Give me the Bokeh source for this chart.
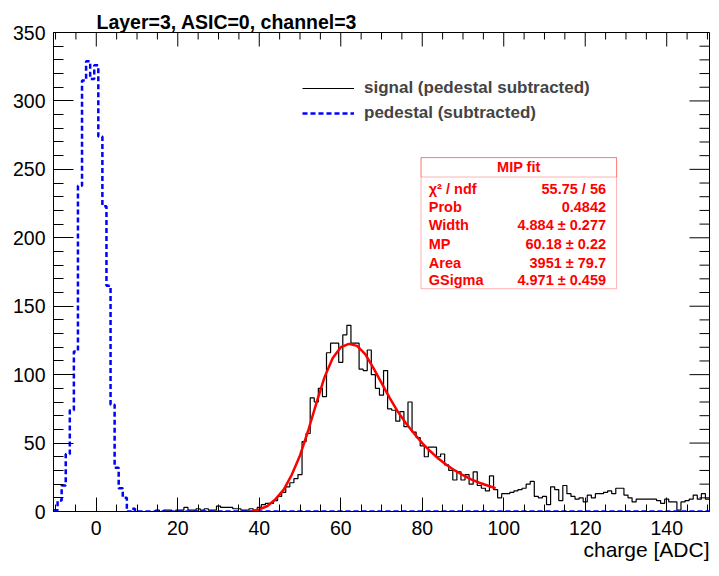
import numpy as np
from bokeh.plotting import figure
from bokeh.models import (Range1d, SingleIntervalTicker, Label, Title,
                          BoxAnnotation, Legend, LegendItem)
from bokeh.embed import file_html
from bokeh.resources import INLINE

# ---------------- data ----------------
bin_centers = list(range(-10, 151))  # 1 ADC wide bins

signal_counts = (
    [0] * 25 +  # -10 .. 14
    [1, 0, 1, 1, 0, 1, 1, 3, 1, 1, 2, 1, 2, 1, 1,          # 15 .. 29
     4, 3, 3, 3, 2, 2, 1, 1, 2, 1, 3, 5, 6, 6, 8] +        # 30 .. 44
    [11, 14, 18, 21, 24, 27, 51, 57, 83, 80,               # 45 .. 54
     90, 84, 116, 123, 123, 109, 129, 136, 123, 123,       # 55 .. 64
     104, 103, 118, 100, 90, 85, 103, 75, 74, 66,          # 65 .. 74
     73, 62, 80, 58, 54, 48, 40, 47, 47, 40,               # 75 .. 84
     42, 34, 30, 23, 29, 23, 27, 20, 29, 19,               # 85 .. 94
     17, 15, 26, 16, 10, 13, 13, 14, 15, 16,               # 95 .. 104
     17, 20, 22, 11, 10, 11, 5, 18, 16, 8,                 # 105 .. 114
     19, 13, 11, 9, 10, 7, 12, 10, 13, 13,                 # 115 .. 124
     14, 15, 13, 17, 17, 12, 10, 7, 9, 9,                  # 125 .. 134
     9, 9, 9, 8, 6, 9, 7, 7, 1, 7,                         # 135 .. 144
     8, 9, 12, 9, 13, 9]                                   # 145 .. 150
)

pedestal_first_bin = -10
pedestal_counts_nonzero = [1, 8, 19, 42, 74, 117, 238, 315, 329, 316,
                           326, 274, 223, 165, 78, 32, 17, 10, 0, 2]   # -10 .. 9

fit_x = [38, 40, 42, 44, 46, 48, 50, 52, 54, 56, 58, 60, 62, 64, 66, 68,
         70, 72, 74, 76, 78, 80, 82, 84, 86, 88, 90, 92, 94, 96, 98]
fit_y = [0, 1.5, 4, 9, 16, 27, 41, 59, 79, 98, 112, 120, 122.5, 121, 115,
         105, 94, 83, 73, 64.5, 57, 50, 44, 38.5, 34, 30, 26.5, 23.5, 21, 19, 17]

x_range_lo, x_range_hi = -10.5, 150.5
y_range_lo, y_range_hi = 0, 350
x_major_step, x_minor_step = 20, 5
y_major_step, y_minor_step = 50, 10

stat_title = "MIP fit"
stat_names = ["\u03c7\u00b2 / ndf", "Prob", "Width", "MP", "Area", "GSigma"]
stat_values = ["55.75 / 56", "0.4842", "4.884 \u00b1 0.277", "60.18 \u00b1 0.22",
               "3951 \u00b1 79.7", "4.971 \u00b1 0.459"]

title_text = "Layer=3, ASIC=0, channel=3"
xlabel_text = "charge [ADC]"
legend_labels = ["signal (pedestal subtracted)", "pedestal (subtracted)"]

# ---------------- helpers ----------------
centers = np.array(bin_centers, dtype=float)
pedestal_counts = np.zeros(len(centers))
i0 = bin_centers.index(pedestal_first_bin)
pedestal_counts[i0:i0 + len(pedestal_counts_nonzero)] = pedestal_counts_nonzero


def step_xy(c, v):
    xs = np.empty(2 * len(c))
    ys = np.empty(2 * len(c))
    xs[0::2] = c - 0.5
    xs[1::2] = c + 0.5
    ys[0::2] = v
    ys[1::2] = v
    return xs, ys


FONT = "Liberation Sans"

p = figure(width=711, height=568, output_backend="svg", toolbar_location=None,
           x_range=Range1d(x_range_lo, x_range_hi),
           y_range=Range1d(y_range_lo, y_range_hi),
           min_border_left=53, min_border_right=2, min_border_top=32,
           min_border_bottom=57, background_fill_color="white",
           border_fill_color="white", outline_line_color="black",
           outline_line_width=1)
p.xgrid.visible = False
p.ygrid.visible = False

# title (ROOT style, left, just above the frame)
p.title.text = title_text
p.title.align = "left"
p.title.offset = 43
p.title.standoff = 0
p.title.vertical_align = "bottom"
p.title.text_font = FONT
p.title.text_font_style = "bold"
p.title.text_font_size = "19.5px"
p.title.text_color = "black"

# x axis label, right aligned (ROOT style)
p.add_layout(Title(text=xlabel_text, align="right", offset=0, standoff=0,
                   vertical_align="top", text_font=FONT, text_font_style="normal",
                   text_font_size="21px", text_color="black"), "below")


def style_axis(ax, ticker, major_in, minor_in, standoff):
    ax.ticker = ticker
    ax.axis_line_color = "black"
    ax.axis_line_width = 1
    ax.major_tick_out = 0
    ax.minor_tick_out = 0
    ax.major_tick_in = major_in
    ax.minor_tick_in = minor_in
    ax.major_tick_line_color = "black"
    ax.minor_tick_line_color = "black"
    ax.major_label_text_font = FONT
    ax.major_label_text_color = "black"
    ax.major_label_text_font_size = "19.5px"
    ax.major_label_standoff = standoff


style_axis(p.xaxis[0], SingleIntervalTicker(interval=x_major_step,
                                            num_minor_ticks=x_major_step // x_minor_step),
           14, 7, 9)
style_axis(p.yaxis[0], SingleIntervalTicker(interval=y_major_step,
                                            num_minor_ticks=y_major_step // y_minor_step),
           20, 10, 8)

# mirrored ticks on top and right frame edges (ROOT draws them); dash markers
# centred on the frame edge, the outer half is clipped by the frame
x_minor = np.arange(-10, 151, x_minor_step)
x_major = x_minor[x_minor % x_major_step == 0]
x_minor = x_minor[x_minor % x_major_step != 0]
y_minor = np.arange(0, 351, y_minor_step)
y_major = y_minor[y_minor % y_major_step == 0]
y_minor = y_minor[y_minor % y_major_step != 0]
p.scatter(x_major, np.full(len(x_major), y_range_hi), marker="dash", angle=np.pi / 2,
          size=28, line_color="black", line_width=1)
p.scatter(x_minor, np.full(len(x_minor), y_range_hi), marker="dash", angle=np.pi / 2,
          size=14, line_color="black", line_width=1)
p.scatter(np.full(len(y_major), x_range_hi), y_major, marker="dash",
          size=40, line_color="black", line_width=1)
p.scatter(np.full(len(y_minor), x_range_hi), y_minor, marker="dash",
          size=20, line_color="black", line_width=1)

# histograms
sx, sy = step_xy(centers, np.array(signal_counts, dtype=float))
r_sig = p.line(sx, sy, line_color="black", line_width=1.2)
px_, py_ = step_xy(centers, pedestal_counts)
r_ped = p.line(px_, py_, line_color="#0000ff", line_width=2.5, line_dash="5 3")
# fit
p.line(fit_x, fit_y, line_color="#ff0000", line_width=2.5)

# legend
legend = Legend(items=[LegendItem(label=legend_labels[0], renderers=[r_sig]),
                       LegendItem(label=legend_labels[1], renderers=[r_ped])],
                location=(249, 388), orientation="vertical",
                border_line_alpha=0, background_fill_alpha=0,
                label_text_font=FONT, label_text_font_style="bold",
                label_text_font_size="17px", glyph_width=52, glyph_height=20,
                label_height=20, label_standoff=10, spacing=5, padding=0, margin=0)
p.add_layout(legend)

# stats box
RED = "#ff0000"
bx_l, bx_r = 79.7, 127.7
p.add_layout(BoxAnnotation(left=bx_l, right=bx_r, bottom=162.8, top=258.6,
                           fill_color="white", fill_alpha=1.0,
                           line_color=RED, line_width=1))
p.add_layout(BoxAnnotation(left=bx_l, right=bx_r, bottom=244.4, top=258.6,
                           fill_alpha=0, line_color=RED, line_width=1))
p.add_layout(Label(x=(bx_l + bx_r) / 2, y=251.5, text=stat_title, text_font=FONT,
                   text_font_style="bold", text_font_size="14.5px",
                   text_align="center", text_baseline="middle", text_color=RED))
row_y = [235.9, 222.4, 209.1, 195.2, 181.5, 168.9]
for name, val, yy in zip(stat_names, stat_values, row_y):
    p.add_layout(Label(x=81.6, y=yy, text=name, text_font=FONT,
                       text_font_style="bold", text_font_size="14.5px",
                       text_align="left", text_baseline="middle", text_color=RED))
    p.add_layout(Label(x=125.1, y=yy, text=val, text_font=FONT,
                       text_font_style="bold", text_font_size="14.5px",
                       text_align="right", text_baseline="middle", text_color=RED))

open("out.html", "w").write(file_html(p, INLINE))
